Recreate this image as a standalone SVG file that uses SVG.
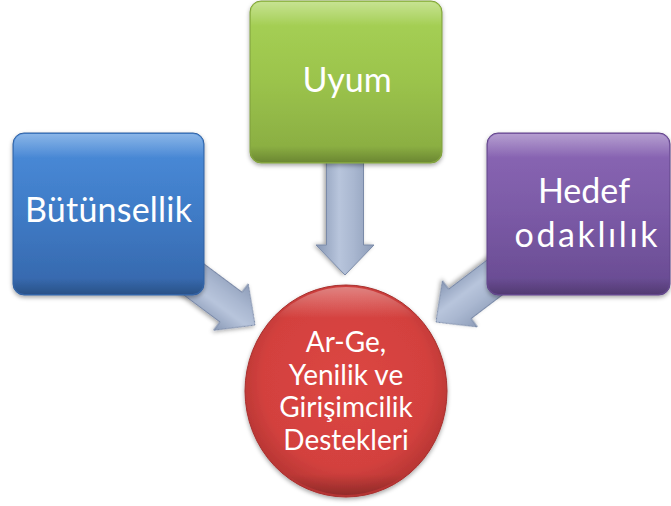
<svg xmlns="http://www.w3.org/2000/svg" width="671" height="506" viewBox="0 0 671 506">
  <defs>
    <linearGradient id="gBlue" x1="0" y1="0" x2="0" y2="1">
      <stop offset="0" stop-color="#4b8ddb"/>
      <stop offset="0.5" stop-color="#3f7bc6"/>
      <stop offset="1" stop-color="#3566aa"/>
    </linearGradient>
    <linearGradient id="gGreen" x1="0" y1="0" x2="0" y2="1">
      <stop offset="0" stop-color="#a8d356"/>
      <stop offset="0.5" stop-color="#9bc34c"/>
      <stop offset="1" stop-color="#87aa40"/>
    </linearGradient>
    <linearGradient id="gPurple" x1="0" y1="0" x2="0" y2="1">
      <stop offset="0" stop-color="#8c68b6"/>
      <stop offset="0.5" stop-color="#7b5aa6"/>
      <stop offset="1" stop-color="#674a90"/>
    </linearGradient>
    <radialGradient id="gRed" cx="0.5" cy="0.45" r="0.55">
      <stop offset="0" stop-color="#dc4643"/>
      <stop offset="0.75" stop-color="#d3413e"/>
      <stop offset="1" stop-color="#b53533"/>
    </radialGradient>
    <linearGradient id="gArrow" gradientUnits="userSpaceOnUse" x1="0" y1="-29" x2="0" y2="29">
      <stop offset="0" stop-color="#8d9cb8"/>
      <stop offset="0.35" stop-color="#a9b7d0"/>
      <stop offset="0.6" stop-color="#b8c5dc"/>
      <stop offset="1" stop-color="#8797b4"/>
    </linearGradient>
    <linearGradient id="gShine" x1="0" y1="0" x2="0" y2="1">
      <stop offset="0" stop-color="#ffffff" stop-opacity="0.35"/>
      <stop offset="0.15" stop-color="#ffffff" stop-opacity="0"/>
      <stop offset="0.9" stop-color="#000000" stop-opacity="0"/>
      <stop offset="1" stop-color="#000000" stop-opacity="0.2"/>
    </linearGradient>
    <filter id="shadow" x="-20%" y="-20%" width="140%" height="140%">
      <feDropShadow dx="0" dy="2" stdDeviation="2" flood-color="#000000" flood-opacity="0.35"/>
    </filter>
    <polygon id="arrowShape" points="0,0 -30,-29 -30,-18.5 -130,-18.5 -130,18.5 -30,18.5 -30,29"/>
  </defs>
  <style>
    .box { stroke-width: 1; filter: url(#shadow); }
    .shine { stroke: none; }
    .arrow { fill: url(#gArrow); stroke: #7a8aa8; stroke-width: 1; stroke-linejoin: round; filter: url(#shadow); }
    .lbl { font-family: Lato, "Open Sans", "Liberation Sans", sans-serif; fill: #ffffff; text-anchor: middle; }
    .big { font-size: 34px; }
    .small { font-size: 28px; }
  </style>

  <g id="connectors">
    <use href="#arrowShape" class="arrow" transform="translate(345,275) rotate(90)"/>
    <use href="#arrowShape" class="arrow" transform="translate(255,325) rotate(36.7)"/>
    <use href="#arrowShape" class="arrow" transform="translate(436,322) rotate(142.8)"/>
  </g>

  <g id="node-butunsellik">
    <rect class="box" x="13" y="133" width="191" height="162" rx="11" fill="url(#gBlue)" stroke="#3160a0"/>
    <rect class="shine" x="14" y="134" width="189" height="160" rx="10" fill="url(#gShine)"/>
    <text class="lbl big" x="108.5" y="222" textLength="167">Bütünsellik</text>
  </g>

  <g id="node-uyum">
    <rect class="box" x="250" y="1" width="192" height="162" rx="11" fill="url(#gGreen)" stroke="#7f9e3c"/>
    <rect class="shine" x="251" y="2" width="190" height="160" rx="10" fill="url(#gShine)"/>
    <text class="lbl big" x="347" y="92">Uyum</text>
  </g>

  <g id="node-hedef">
    <rect class="box" x="487" y="133" width="183" height="162" rx="11" fill="url(#gPurple)" stroke="#604588"/>
    <rect class="shine" x="488" y="134" width="181" height="160" rx="10" fill="url(#gShine)"/>
    <text class="lbl big" x="584" y="203">Hedef</text>
    <text class="lbl big" x="586" y="247" textLength="143">odaklılık</text>
  </g>

  <g id="node-arge">
    <ellipse class="box" cx="346" cy="391" rx="101" ry="106" fill="url(#gRed)" stroke="#a8302e"/>
    <ellipse class="shine" cx="346" cy="391" rx="99" ry="104" fill="url(#gShine)"/>
    <text class="lbl small" x="346" y="352">Ar-Ge,</text>
    <text class="lbl small" x="346" y="385">Yenilik ve</text>
    <text class="lbl small" x="346" y="417">Girişimcilik</text>
    <text class="lbl small" x="346" y="450">Destekleri</text>
  </g>
</svg>
